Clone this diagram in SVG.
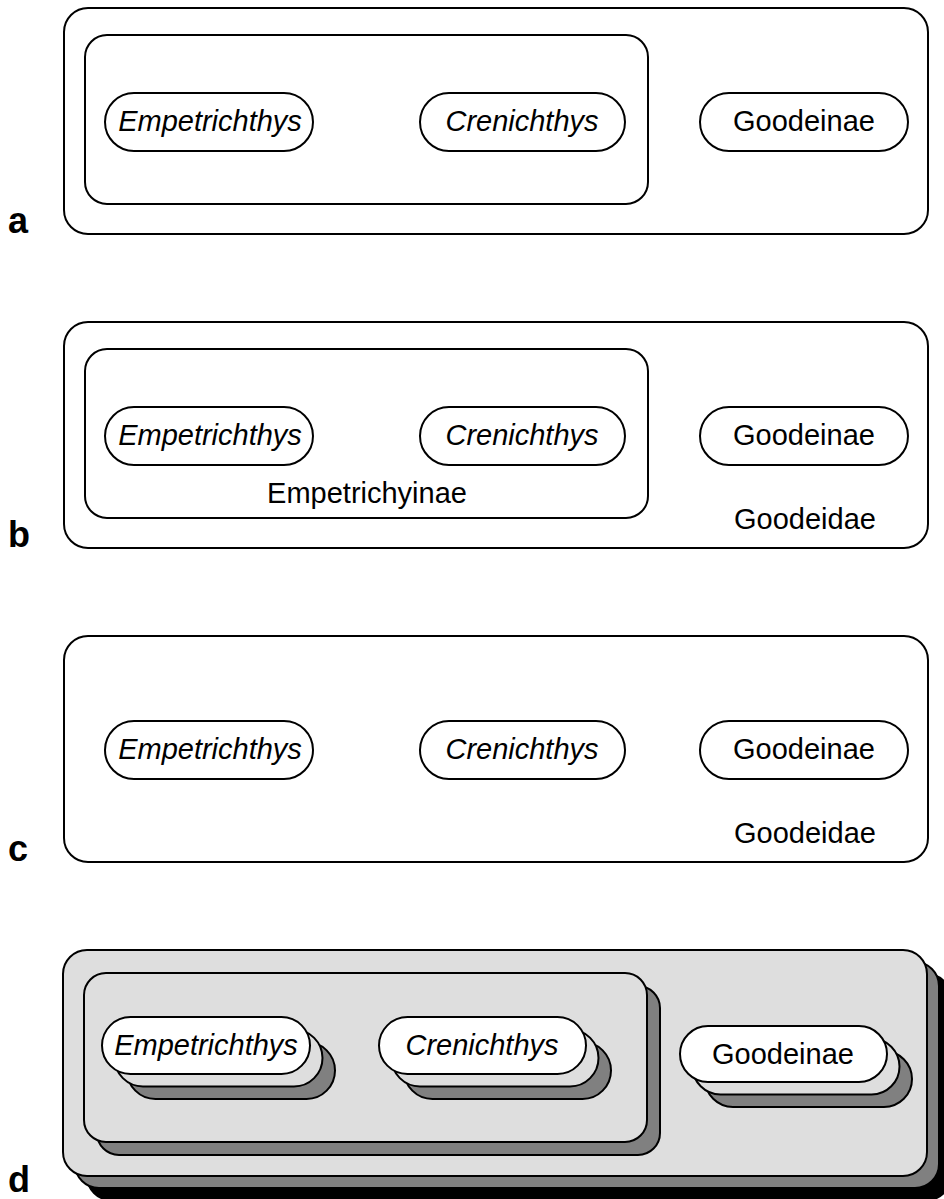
<svg xmlns="http://www.w3.org/2000/svg" width="944" height="1199" viewBox="0 0 944 1199">
<style>
.box{fill:#fff;stroke:#000;stroke-width:2}
.lg{fill:#dedede;stroke:#000;stroke-width:2}
.dg{fill:#808080;stroke:#000;stroke-width:2}
.bk{fill:#000;stroke:#000;stroke-width:2}
.t{font-family:"Liberation Sans",Arial,sans-serif;font-size:29px;text-anchor:middle;fill:#000}
.i{font-style:italic}
.lab{font-family:"Liberation Sans",Arial,sans-serif;font-size:36px;font-weight:bold;fill:#000}
</style>
<rect width="944" height="1199" fill="#fff"/>
<g id="connectors"/>

<!-- Panel a -->
<g id="panel-a">
<text class="lab" x="8" y="233">a</text>
<g id="a-goodeidae"><rect class="box" x="64" y="8" width="864" height="226" rx="24"/></g>
<g id="a-empetrichyinae"><rect class="box" x="85" y="35" width="563" height="169" rx="22"/></g>
<g id="a-empetrichthys"><rect class="box" x="105" y="93" width="208" height="58" rx="29"/><text class="t i" x="210" y="131">Empetrichthys</text></g>
<g id="a-crenichthys"><rect class="box" x="420" y="93" width="205" height="58" rx="29"/><text class="t i" x="522" y="131">Crenichthys</text></g>
<g id="a-goodeinae"><rect class="box" x="700" y="93" width="208" height="58" rx="29"/><text class="t" x="804" y="131">Goodeinae</text></g>
</g>

<!-- Panel b -->
<g id="panel-b">
<text class="lab" x="8" y="547">b</text>
<g id="b-goodeidae"><rect class="box" x="64" y="322" width="864" height="226" rx="24"/><text class="t" x="805" y="529">Goodeidae</text></g>
<g id="b-empetrichyinae"><rect class="box" x="85" y="349" width="563" height="169" rx="22"/><text class="t" x="367" y="503">Empetrichyinae</text></g>
<g id="b-empetrichthys"><rect class="box" x="105" y="407" width="208" height="58" rx="29"/><text class="t i" x="210" y="445">Empetrichthys</text></g>
<g id="b-crenichthys"><rect class="box" x="420" y="407" width="205" height="58" rx="29"/><text class="t i" x="522" y="445">Crenichthys</text></g>
<g id="b-goodeinae"><rect class="box" x="700" y="407" width="208" height="58" rx="29"/><text class="t" x="804" y="445">Goodeinae</text></g>
</g>

<!-- Panel c -->
<g id="panel-c">
<text class="lab" x="8" y="861">c</text>
<g id="c-goodeidae"><rect class="box" x="64" y="636" width="864" height="226" rx="24"/><text class="t" x="805" y="843">Goodeidae</text></g>
<g id="c-empetrichthys"><rect class="box" x="105" y="721" width="208" height="58" rx="29"/><text class="t i" x="210" y="759">Empetrichthys</text></g>
<g id="c-crenichthys"><rect class="box" x="420" y="721" width="205" height="58" rx="29"/><text class="t i" x="522" y="759">Crenichthys</text></g>
<g id="c-goodeinae"><rect class="box" x="700" y="721" width="208" height="58" rx="29"/><text class="t" x="804" y="759">Goodeinae</text></g>
</g>

<!-- Panel d -->
<g id="panel-d">
<text class="lab" x="8" y="1192">d</text>
<g id="d-goodeidae">
<rect class="bk" x="87" y="974" width="864" height="226" rx="24"/>
<rect class="dg" x="75" y="962" width="864" height="226" rx="24"/>
<rect class="lg" x="63" y="950" width="864" height="226" rx="24"/>
</g>
<g id="d-empetrichyinae">
<rect class="dg" x="97" y="986" width="563" height="169" rx="22"/>
<rect class="lg" x="84" y="973" width="563" height="169" rx="22"/>
</g>
<g id="d-empetrichthys">
<rect class="dg" x="127" y="1042" width="208" height="57" rx="28.5"/>
<rect class="lg" x="114.5" y="1029.5" width="208" height="57" rx="28.5"/>
<rect class="box" x="102" y="1017" width="208" height="57" rx="28.5"/>
<text class="t i" x="206" y="1055">Empetrichthys</text>
</g>
<g id="d-crenichthys">
<rect class="dg" x="404" y="1042" width="207" height="57" rx="28.5"/>
<rect class="lg" x="391.5" y="1029.5" width="207" height="57" rx="28.5"/>
<rect class="box" x="379" y="1017" width="207" height="57" rx="28.5"/>
<text class="t i" x="482" y="1055">Crenichthys</text>
</g>
<g id="d-goodeinae">
<rect class="dg" x="705" y="1051" width="207" height="56" rx="28"/>
<rect class="lg" x="692.5" y="1038.5" width="207" height="56" rx="28"/>
<rect class="box" x="680" y="1026" width="207" height="56" rx="28"/>
<text class="t" x="783" y="1064">Goodeinae</text>
</g>
</g>
</svg>
